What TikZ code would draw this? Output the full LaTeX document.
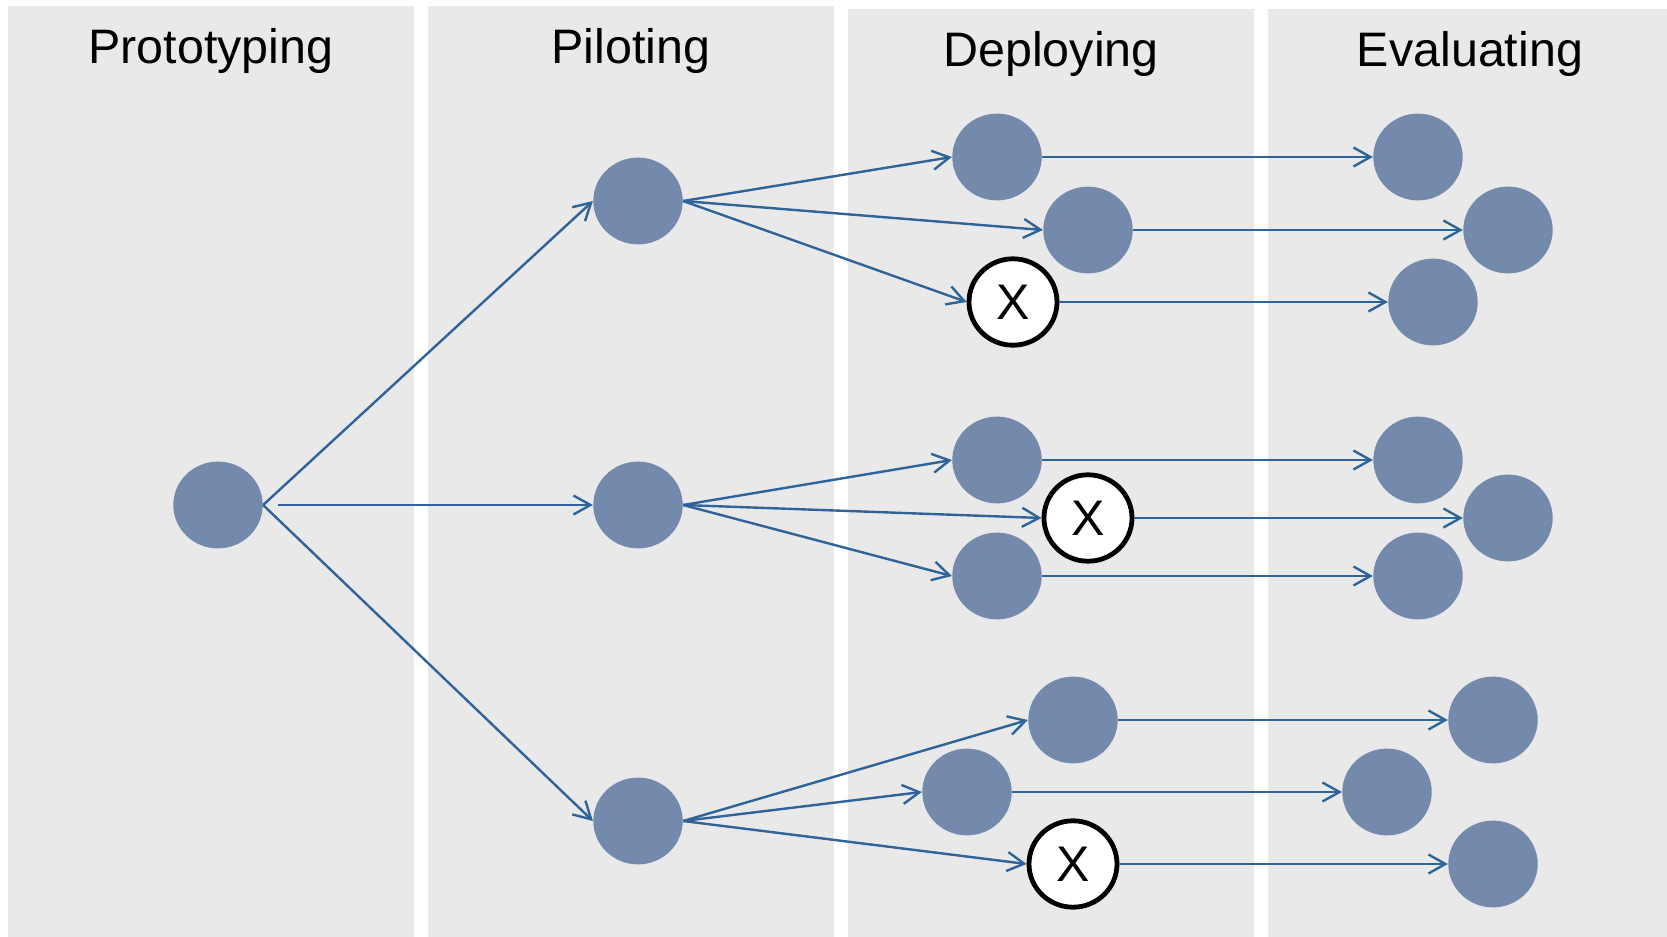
\documentclass[tikz,border=0pt]{standalone}
\usepackage{fontspec}
\setmainfont{Liberation Sans}
\usetikzlibrary{shapes.geometric,arrows.meta}
\definecolor{panelgray}{RGB}{233,233,233}
\definecolor{dotblue}{RGB}{116,138,173}
\definecolor{linkblue}{RGB}{46,100,153}
\tikzset{
  panel/.style={fill=panelgray,draw=none},
  stage/.style={anchor=base,font=\fontsize{24.2pt}{29pt}\selectfont,inner sep=0pt},
  dot/.style={ellipse,fill=dotblue,draw=none,minimum width=44.7pt,minimum height=43.4pt,inner sep=0pt},
  dropped/.style={ellipse,fill=white,draw=black,line width=2.4pt,minimum width=44pt,minimum height=43.2pt,inner sep=0pt,font=\fontsize{25pt}{30pt}\selectfont},
  link/.style={draw=linkblue,line width=1.2pt,-{Straight Barb[length=8.5pt,width=9.5pt,line width=1.2pt]}}
}
\begin{document}
\begin{tikzpicture}[x=0.5pt,y=-0.5pt]
\useasboundingbox (0,0) rectangle (1667,937);
% stage columns
\fill[panel] (8,6) rectangle (414,937);
\fill[panel] (428,6) rectangle (834,937);
\fill[panel] (848,9) rectangle (1254,937);
\fill[panel] (1268,9) rectangle (1667,937);
\node[stage] (t1) at (211,63) {Prototyping};
\node[stage] (t2) at (631,63) {Piloting};
\node[stage] (t3) at (1051,66) {Deploying};
\node[stage] (t4) at (1470,66) {Evaluating};
% prototype
\node[dot] (p0) at (218,505) {};
% pilots
\node[dot] (a) at (638,201) {};
\node[dot] (b) at (638,505) {};
\node[dot] (c) at (638,821) {};
% deployments
\node[dot] (d1) at (997,157) {};
\node[dot] (d2) at (1088,230) {};
\node[dropped] (d3) at (1013,302) {X};
\node[dot] (d4) at (997,460) {};
\node[dropped] (d5) at (1088,518) {X};
\node[dot] (d6) at (997,576) {};
\node[dot] (d7) at (1073,720) {};
\node[dot] (d8) at (967,792) {};
\node[dropped] (d9) at (1073,864) {X};
% evaluations
\node[dot] (e1) at (1418,157) {};
\node[dot] (e2) at (1508,230) {};
\node[dot] (e3) at (1433,302) {};
\node[dot] (e4) at (1418,460) {};
\node[dot] (e5) at (1508,518) {};
\node[dot] (e6) at (1418,576) {};
\node[dot] (e7) at (1493,720) {};
\node[dot] (e8) at (1387,792) {};
\node[dot] (e9) at (1493,864) {};
% prototype to pilots
\draw[link] (p0.east) -- (a.west);
\draw[link,shorten <=7.5pt] (p0.east) -- (b.west);
\draw[link] (p0.east) -- (c.west);
% pilots to deployments
\foreach \s/\t in {a/d1,a/d2,a/d3,b/d4,b/d5,b/d6,c/d7,c/d8,c/d9}
  \draw[link] (\s.east) -- (\t.west);
% deployments to evaluations
\foreach \s/\t in {d1/e1,d2/e2,d3/e3,d4/e4,d5/e5,d6/e6,d7/e7,d8/e8,d9/e9}
  \draw[link] (\s.east) -- (\t.west);
\end{tikzpicture}
\end{document}
